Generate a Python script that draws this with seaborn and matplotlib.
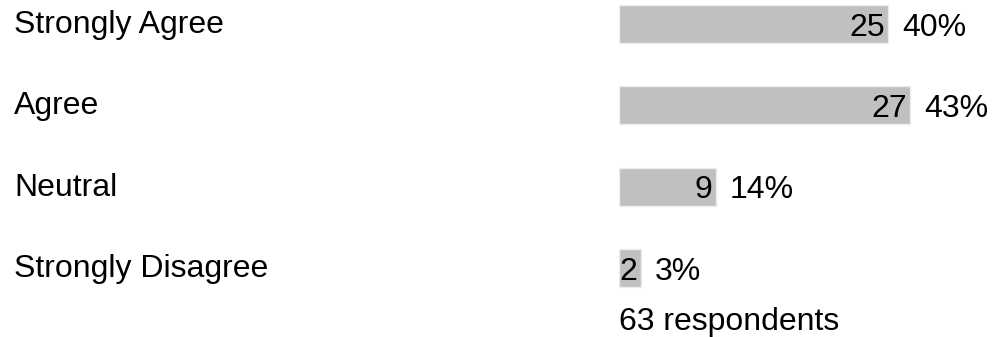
import matplotlib
matplotlib.use("Agg")
import matplotlib.pyplot as plt
import matplotlib.transforms as mtransforms
import pandas as pd
import seaborn as sns

# survey answers
labels = ["Strongly Agree", "Agree", "Neutral", "Strongly Disagree"]
counts = [25, 27, 9, 2]
percents = ["40%", "43%", "14%", "3%"]
total_text = "63 respondents"

sns.set_style("white")
plt.rcParams["font.family"] = ["Liberation Sans", "DejaVu Sans"]
plt.rcParams["text.color"] = "black"

df = pd.DataFrame({"answer": labels, "count": counts})

fig = plt.figure(figsize=(9.94, 3.37), dpi=100)
ax = fig.add_axes([619 / 994, 0, 375 / 994, 1])

sns.barplot(
    data=df, x="count", y="answer", order=labels, ax=ax,
    color="#c0c0c0", saturation=1, width=0.47,
    edgecolor="#ececec", linewidth=1,
)

ax.set_xlim(0, 34.8)
ax.set_ylim(3.848, -0.295)
ax.axis("off")

fs = 23
lab_tr = mtransforms.blended_transform_factory(fig.transFigure, ax.transData)
for i, (lab, n, pct) in enumerate(zip(labels, counts, percents)):
    ax.text(14 / 994, i + 0.11, lab, transform=lab_tr, ha="left", va="baseline",
            fontsize=fs, color="black")
    ax.text(n - 0.3, i + 0.145, str(n), ha="right", va="baseline", fontsize=fs, color="black")
    ax.text(n + 1.3, i + 0.145, pct, ha="left", va="baseline", fontsize=fs, color="black")

ax.text(0, 3.76, total_text, ha="left", va="baseline", fontsize=fs, color="black")

fig.savefig("out.png", dpi=100)
plt.close(fig)
